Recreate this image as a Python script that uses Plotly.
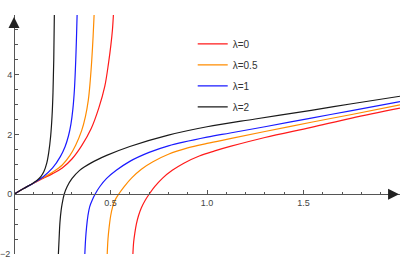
import plotly.graph_objects as go

# ---- data (r+ , mu) ----
labels = ["λ=0", "λ=0.5", "λ=1", "λ=2"]
colors = ["#ff1a1a", "#ff8c00", "#1a1aff", "#1a1a1a"]

# lambda = 0
r0_a = [0, 0.05, 0.1, 0.15, 0.2, 0.25, 0.3, 0.35, 0.4, 0.44, 0.47, 0.49, 0.502, 0.51, 0.515]
mu0_a = [0, 0.19, 0.37, 0.53, 0.69, 0.88, 1.18, 1.62, 2.2, 2.9, 3.6, 4.4, 5.0, 5.5, 6.0]
r0_b = [0.616, 0.62, 0.626, 0.634, 0.645, 0.66, 0.68, 0.70, 0.73, 0.77, 0.82, 0.88, 0.96, 1.04, 1.12, 1.3, 1.54, 1.75, 2.0]
mu0_b = [-2.0, -1.6, -1.3, -1.0, -0.72, -0.45, -0.2, 0.0, 0.26, 0.54, 0.8, 1.04, 1.28, 1.45, 1.6, 1.9, 2.24, 2.55, 2.88]

# lambda = 0.5
r05_a = [0, 0.05, 0.1, 0.15, 0.2, 0.25, 0.29, 0.32, 0.35, 0.37, 0.385, 0.395, 0.403, 0.41, 0.415]
mu05_a = [0, 0.19, 0.37, 0.55, 0.74, 0.98, 1.3, 1.65, 2.12, 2.6, 3.15, 3.8, 4.5, 5.3, 6.0]
r05_b = [0.483, 0.487, 0.493, 0.501, 0.511, 0.525, 0.542, 0.57, 0.61, 0.66, 0.72, 0.8, 0.9, 1.0, 1.12, 1.3, 1.54, 1.75, 2.0]
mu05_b = [-2.0, -1.5, -1.1, -0.72, -0.42, -0.18, 0.0, 0.25, 0.55, 0.84, 1.09, 1.34, 1.55, 1.7, 1.86, 2.1, 2.41, 2.67, 2.99]

# lambda = 1
r1_a = [0, 0.05, 0.1, 0.15, 0.2, 0.24, 0.265, 0.282, 0.295, 0.305, 0.313, 0.32, 0.327]
mu1_a = [0, 0.19, 0.37, 0.58, 0.88, 1.26, 1.6, 1.95, 2.35, 2.85, 3.5, 4.5, 6.0]
r1_b = [0.367, 0.371, 0.376, 0.383, 0.392, 0.405, 0.42, 0.445, 0.48, 0.53, 0.6, 0.7, 0.8, 1.0, 1.12, 1.3, 1.54, 1.75, 2.0]
mu1_b = [-2.0, -1.5, -1.1, -0.72, -0.42, -0.2, 0.0, 0.26, 0.53, 0.8, 1.1, 1.4, 1.62, 1.91, 2.05, 2.26, 2.55, 2.8, 3.1]

# lambda = 2
r2_a = [0, 0.05, 0.1, 0.12, 0.14, 0.155, 0.17, 0.18, 0.19, 0.197, 0.202, 0.206, 0.209]
mu2_a = [0, 0.19, 0.38, 0.47, 0.6, 0.76, 1.05, 1.4, 1.95, 2.6, 3.4, 4.5, 6.0]
r2_b = [0.23, 0.234, 0.238, 0.244, 0.25, 0.26, 0.275, 0.3, 0.34, 0.4, 0.48, 0.6, 0.8, 1.0, 1.25, 1.54, 1.75, 2.0]
mu2_b = [-2.0, -1.45, -0.95, -0.55, -0.3, 0.0, 0.25, 0.52, 0.8, 1.05, 1.3, 1.6, 1.98, 2.26, 2.52, 2.81, 3.03, 3.28]

series = [
    (r0_a, mu0_a, r0_b, mu0_b),
    (r05_a, mu05_a, r05_b, mu05_b),
    (r1_a, mu1_a, r1_b, mu1_b),
    (r2_a, mu2_a, r2_b, mu2_b),
]

x_ticks = [0.5, 1.0, 1.5]
x_ticktext = ["0.5", "1.0", "1.5"]
y_ticks = [-2, 0, 2, 4]
y_ticktext = ["\u22122", "0", "2", "4"]

fig = go.Figure()
for i, (ra, ma, rb, mb) in enumerate(series):
    fig.add_trace(go.Scatter(
        x=list(ra) + [None] + list(rb),
        y=list(ma) + [None] + list(mb),
        mode="lines", name=labels[i], legendgroup=labels[i],
        line=dict(color=colors[i], width=1.2, shape="spline", smoothing=1.0),
        connectgaps=False,
    ))

axis_col = "#555555"
font_fam = "Liberation Sans, Arial, sans-serif"

fig.update_layout(
    width=415, height=258,
    margin=dict(l=14, r=15, t=15, b=4, pad=0),
    paper_bgcolor="white", plot_bgcolor="white",
    font=dict(family=font_fam, size=9, color="#444444"),
    showlegend=True,
    legend=dict(x=0.463, y=0.94, xanchor="left", yanchor="top",
                bgcolor="rgba(0,0,0,0)", font=dict(size=10, color="#333333"),
                tracegroupgap=2, itemwidth=30),
    xaxis=dict(range=[0, 2.0], anchor="free", position=0.25,
               showline=True, linecolor=axis_col, linewidth=1,
               ticks="inside", ticklen=4, tickcolor=axis_col, tickwidth=1,
               tickvals=x_ticks, ticktext=x_ticktext,
               minor=dict(ticks="inside", ticklen=2.5, dtick=0.1, tick0=0,
                          tickcolor=axis_col, showgrid=False),
               showgrid=False, zeroline=False, fixedrange=True, automargin=False),
    yaxis=dict(range=[-2, 6], anchor="free", position=0,
               showline=True, linecolor=axis_col, linewidth=1,
               ticks="inside", ticklen=4, tickcolor=axis_col, tickwidth=1,
               tickvals=y_ticks, ticktext=[""] + y_ticktext[1:],
               minor=dict(ticks="inside", ticklen=2.5, dtick=0.5, tick0=0,
                          tickcolor=axis_col, showgrid=False),
               showgrid=False, zeroline=False, fixedrange=True, automargin=False),
)

# bottom y tick label (kept as text even though it sits at the figure edge)
fig.add_annotation(x=0, y=y_ticks[0], xref="x", yref="y", text=y_ticktext[0],
                   showarrow=False, xanchor="right", yanchor="middle", xshift=-2,
                   font=dict(size=9, color="#444444"))

# axis arrows
fig.add_annotation(x=1.995, y=0, xref="x", yref="y", ax=-9, ay=0,
                   showarrow=True, arrowhead=2, arrowsize=2.2, arrowwidth=1,
                   arrowcolor="#222222", text="")
fig.add_annotation(x=0, y=5.93, xref="x", yref="y", ax=0, ay=9,
                   showarrow=True, arrowhead=2, arrowsize=2.2, arrowwidth=1,
                   arrowcolor="#222222", text="")
# axis labels
fig.add_annotation(x=0, y=6.35, xref="x", yref="y", text="<i>μ</i>",
                   showarrow=False, font=dict(size=9, color="#333333"))
fig.add_annotation(x=2.057, y=0.13, xref="x", yref="y", text="<i>r</i><sub>+</sub>",
                   showarrow=False, font=dict(size=9, color="#333333"))

fig.write_html("out.html", config={"displayModeBar": False},
               post_script="document.body.style.margin='0';")
